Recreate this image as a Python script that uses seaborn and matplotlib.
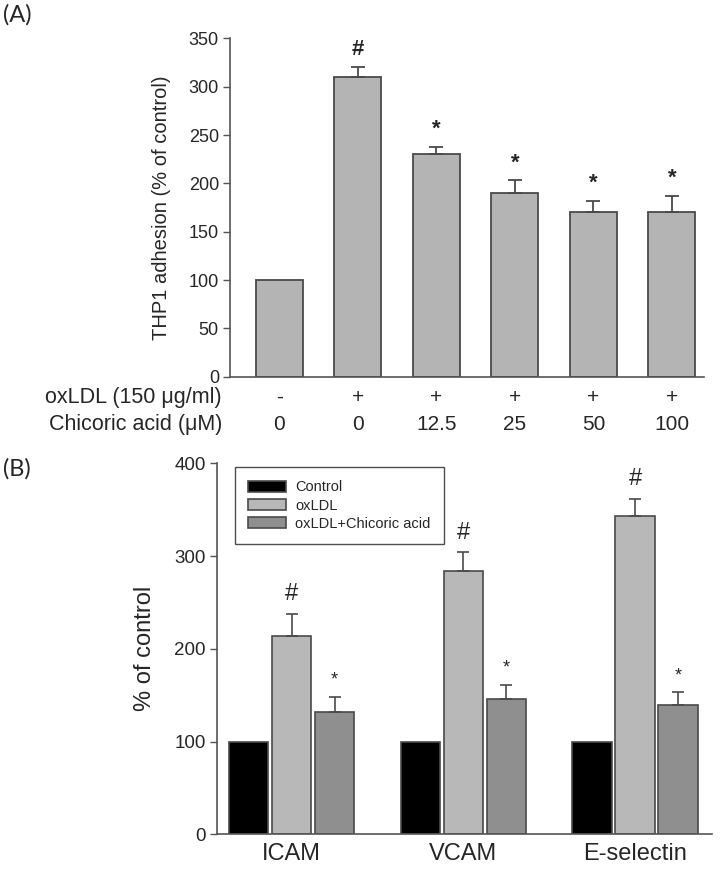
import numpy as np
import pandas as pd
import matplotlib
matplotlib.use('Agg')
import matplotlib.pyplot as plt
import matplotlib.transforms as mtransforms
import seaborn as sns

# panel A: THP1 adhesion
conditions = ['c1', 'c2', 'c3', 'c4', 'c5', 'c6']
oxldl_row = ['-', '+', '+', '+', '+', '+']
chicoric_row = ['0', '0', '12.5', '25', '50', '100']
adhesion = [100, 310, 230, 190, 170, 170]
adhesion_err = [0, 10, 8, 13, 12, 17]
adhesion_marks = ['', '#', '*', '*', '*', '*']

# panel B: adhesion molecules
molecules = ['ICAM', 'VCAM', 'E-selectin']
treatments = ['Control', 'oxLDL', 'oxLDL+Chicoric acid']
control_vals = [100, 100, 100]
oxldl_vals = [214, 284, 343]
oxldl_err = [24, 20, 19]
combo_vals = [132, 146, 139]
combo_err = [16, 15, 14]

sns.set_style('white')
plt.rcParams['font.family'] = ['Liberation Sans', 'DejaVu Sans']

fig = plt.figure(figsize=(7.22, 8.69), dpi=100)
ax_a = fig.add_axes([0.3186, 0.5665, 0.6565, 0.3894])
ax_b = fig.add_axes([0.3006, 0.0399, 0.6856, 0.4269])

edge = '#4a4a4a'

# ---- panel A
sns.barplot(x=conditions, y=adhesion, order=conditions, color='#b4b4b4',
            saturation=1, width=0.6, edgecolor=edge, linewidth=1.3,
            errorbar=None, ax=ax_a)
xs = np.arange(len(conditions))
vals = np.array(adhesion)
errs = np.array(adhesion_err)
has_err = errs > 0
ax_a.errorbar(xs[has_err], vals[has_err], yerr=[np.zeros(has_err.sum()), errs[has_err]],
              fmt='none', ecolor=edge, elinewidth=1.3, capsize=5, capthick=1.3)
for x, v, e, m in zip(xs, vals, errs, adhesion_marks):
    if m:
        ax_a.annotate(m, (x, v + e), xytext=(0, 5), textcoords='offset points',
                      ha='center', va='bottom', fontsize=16, fontweight='bold')

ax_a.set_xlim(-0.63, 5.41)
ax_a.set_ylim(0, 350)
ax_a.set_yticks(range(0, 351, 50))
ax_a.set_xticks([])
ax_a.set_xlabel('')
ax_a.set_ylabel('THP1 adhesion (% of control)', fontsize=14.5, labelpad=13)
ax_a.tick_params(axis='y', labelsize=13, length=5, width=1, color='#555555', direction='out', left=True, pad=3)
sns.despine(ax=ax_a)
for s in ['left', 'bottom']:
    ax_a.spines[s].set_color('#555555')
    ax_a.spines[s].set_linewidth(1.2)

# treatment rows under the bars
trans = mtransforms.blended_transform_factory(ax_a.transData, ax_a.transAxes)
for x, o, c in zip(xs, oxldl_row, chicoric_row):
    ax_a.text(x, -0.061, o, transform=trans, ha='center', va='center', fontsize=15)
    ax_a.text(x, -0.142, c, transform=trans, ha='center', va='center', fontsize=15)
ax_a.text(-0.017, -0.061, 'oxLDL (150 μg/ml)', transform=ax_a.transAxes,
          ha='right', va='center', fontsize=15.5)
ax_a.text(-0.017, -0.142, 'Chicoric acid (μM)', transform=ax_a.transAxes,
          ha='right', va='center', fontsize=15.5)

# ---- panel B
df_b = pd.DataFrame({
    'molecule': molecules * 3,
    'treatment': [treatments[0]] * 3 + [treatments[1]] * 3 + [treatments[2]] * 3,
    'value': control_vals + oxldl_vals + combo_vals,
})
sns.barplot(data=df_b, x='molecule', y='value', hue='treatment', order=molecules,
            hue_order=treatments, palette=['#000000', '#b8b8b8', '#8f8f8f'],
            saturation=1, width=0.75, gap=0.08, edgecolor=edge, linewidth=1.2,
            errorbar=None, ax=ax_b)

containers = ax_b.containers
for cont, v, e in [(containers[1], oxldl_vals, oxldl_err), (containers[2], combo_vals, combo_err)]:
    bx = np.array([p.get_x() + p.get_width() / 2 for p in cont.patches])
    v = np.array(v)
    e = np.array(e)
    ax_b.errorbar(bx, v, yerr=[np.zeros(len(e)), e], fmt='none', ecolor=edge,
                  elinewidth=1.2, capsize=4, capthick=1.2)
for p, v, e in zip(containers[1].patches, oxldl_vals, oxldl_err):
    ax_b.annotate('#', (p.get_x() + p.get_width() / 2, v + e), xytext=(0, 6),
                  textcoords='offset points', ha='center', va='bottom', fontsize=17)
for p, v, e in zip(containers[2].patches, combo_vals, combo_err):
    ax_b.annotate('*', (p.get_x() + p.get_width() / 2, v + e), xytext=(0, 6),
                  textcoords='offset points', ha='center', va='bottom', fontsize=13)

sns.move_legend(ax_b, 'upper left', bbox_to_anchor=(0.037, 0.99), borderaxespad=0,
                title=None, frameon=True, fancybox=False, edgecolor='#222222',
                fontsize=10.5, handlelength=2.6, handleheight=0.8, labelspacing=0.3,
                borderpad=0.9, handletextpad=0.6)
ax_b.get_legend().get_frame().set_linewidth(1.0)

ax_b.set_xlim(-0.434, 2.448)
ax_b.set_ylim(0, 400)
ax_b.set_yticks(range(0, 401, 100))
ax_b.set_xlabel('')
ax_b.set_ylabel('% of control', fontsize=17, labelpad=13)
ax_b.tick_params(axis='y', labelsize=13.5, length=5, width=1, color='#555555', direction='out', left=True, pad=3)
ax_b.tick_params(axis='x', labelsize=17, length=0, pad=6)
sns.despine(ax=ax_b)
for s in ['left', 'bottom']:
    ax_b.spines[s].set_color('#555555')
    ax_b.spines[s].set_linewidth(1.2)

fig.text(0.004, 0.995, '(A)', fontsize=17, family='Lato', va='top', ha='left')
fig.text(0.004, 0.473, '(B)', fontsize=17, family='Lato', va='top', ha='left')

fig.savefig('out.png', dpi=100)
